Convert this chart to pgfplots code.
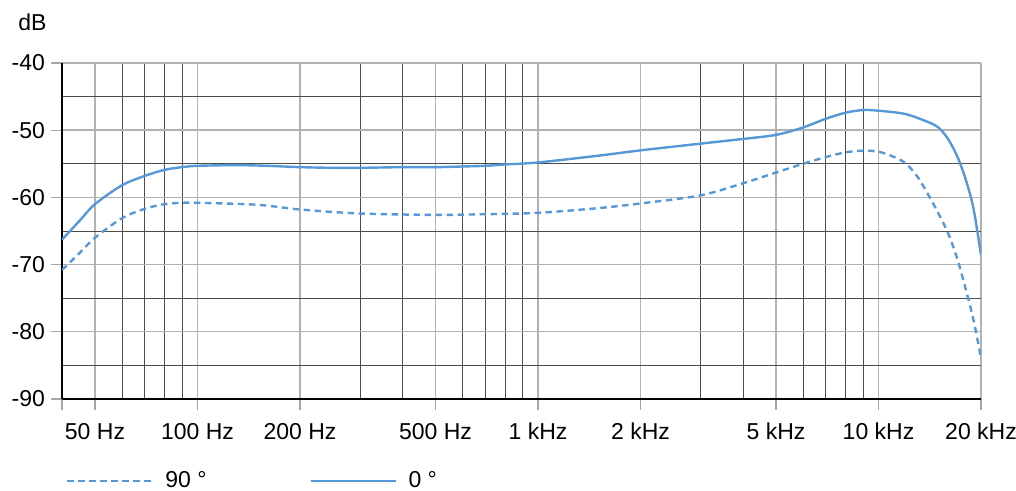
\documentclass[border=0pt]{standalone}
\usepackage{fontspec}
\setmainfont{Liberation Sans}
\usepackage{pgfplots}
\pgfplotsset{compat=1.18}
\definecolor{curve}{RGB}{86,152,216}
\pgfplotstableread{
f db
40 -66.3
45 -63.5
50 -61.0
60 -58.2
70 -56.8
80 -55.9
90 -55.5
100 -55.3
130 -55.2
160 -55.3
200 -55.5
250 -55.6
300 -55.6
400 -55.5
500 -55.5
600 -55.4
700 -55.3
800 -55.1
1000 -54.8
1500 -53.8
2000 -53.0
3000 -52.0
4000 -51.3
5000 -50.7
6000 -49.6
7000 -48.3
8000 -47.4
9000 -47.0
10000 -47.1
12000 -47.6
14000 -48.8
15000 -49.6
16000 -51.3
17000 -53.8
18000 -57.2
19000 -61.6
20000 -68.6
}\zerodeg
\pgfplotstableread{
f db
40 -70.8
45 -68.3
50 -66.0
60 -63.1
70 -61.7
80 -61.0
90 -60.8
100 -60.8
150 -61.1
200 -61.8
300 -62.4
500 -62.6
700 -62.5
1000 -62.3
1500 -61.6
2000 -60.9
3000 -59.7
4000 -57.9
5000 -56.3
6000 -55.0
7000 -54.0
8000 -53.3
9000 -53.05
10000 -53.2
11000 -53.9
12000 -54.9
13000 -56.9
14000 -59.6
15000 -62.4
16000 -65.3
17000 -69.0
18000 -73.5
19000 -78.2
20000 -83.9
}\ninetydeg
\begin{document}
\fontsize{11.5}{13.5}\selectfont
\begin{tikzpicture}
\begin{axis}[
  at={(0,0)}, anchor=south west,
  scale only axis, width=459.5pt, height=168pt,
  xmode=log, xmin=40, xmax=20000, ymin=-90, ymax=-40,
  xtick={40,50,100,200,500,1000,2000,5000,10000,20000},
  xticklabels={,50 Hz,100 Hz,200 Hz,500 Hz,1 kHz,2 kHz,5 kHz,10 kHz,20 kHz},
  minor xtick={60,70,80,90,300,400,600,700,800,900,3000,4000,6000,7000,8000,9000},
  ytick={-90,-80,-70,-60,-50,-40},
  yticklabels={-90,-80,-70,-60,-50,-40},
  minor ytick={-85,-75,-65,-55,-45},
  grid=both,
  major grid style={black!30, line width=0.7pt},
  minor grid style={black!70, line width=0.4pt},
  axis lines*=left,
  axis line style={black, line width=0.7pt, -},
  tick align=outside,
  major tick length=5.5pt, minor tick length=0pt,
  tick style={black!35, line width=0.6pt},
  xticklabel style={yshift=-2.5pt},
  yticklabel style={xshift=1pt},
  ylabel={dB},
  every axis y label/.style={at={(rel axis cs:0,1)}, anchor=center, xshift=-14.75pt, yshift=20.5pt},
  legend style={draw=none, fill=none, at={(rel axis cs:0,0)}, anchor=west, xshift=2pt, yshift=-41pt,
    legend columns=2, inner sep=0pt,
    /tikz/every odd column/.append style={column sep=4pt},
    /tikz/every even column/.append style={column sep=49.5pt}},
  legend image code/.code={\draw[#1, line width=1pt] (0pt,0pt) -- (42.5pt,0pt);},
]
\addplot[curve, line width=1.2pt, dash pattern=on 3.2pt off 2.3pt, smooth, tension=0.5] table[x=f,y=db] {\ninetydeg};
\addlegendentry{90 °}
\addplot[curve, line width=1.2pt, smooth, tension=0.5] table[x=f,y=db] {\zerodeg};
\addlegendentry{0 °}
\end{axis}
\pgfresetboundingbox
\path (-31pt,-46pt) rectangle (477pt,199.5pt);
\end{tikzpicture}
\end{document}
